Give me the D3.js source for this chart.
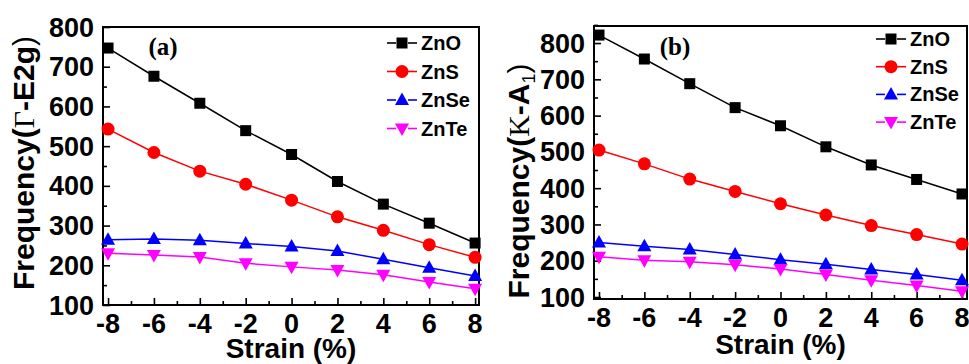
<!DOCTYPE html>
<html>
<head>
<meta charset="utf-8">
<script src="https://cdn.jsdelivr.net/npm/d3@7"></script>
<style>
  body { margin: 0; background: #fff; }
  text { font-family: "Liberation Sans", Arial, sans-serif; font-weight: bold; fill: #000; }
</style>
</head>
<body>
<script>
/* two panels of phonon frequency vs strain */
var width = 969;
var height = 364;

var strain = [-8, -6, -4, -2, 0, 2, 4, 6, 8];
var xTicks = [-8, -6, -4, -2, 0, 2, 4, 6, 8];
var yTicks = [100, 200, 300, 400, 500, 600, 700, 800];
var compounds = ["ZnO", "ZnS", "ZnSe", "ZnTe"];

// panel (a): Gamma-E2g
var aZnO  = [747, 676, 608, 539, 479, 411, 354, 306, 256];
var aZnS  = [543, 484, 437, 404, 364, 322, 288, 252, 220];
var aZnSe = [264, 266, 263, 255, 247, 236, 215, 194, 173];
var aZnTe = [230, 226, 221, 205, 196, 188, 176, 158, 141];

// panel (b): K-A1
var bZnO  = [822, 756, 688, 622, 572, 514, 464, 424, 384];
var bZnS  = [505, 467, 425, 391, 357, 326, 297, 272, 246];
var bZnSe = [250, 240, 231, 217, 203, 190, 176, 162, 146];
var bZnTe = [211, 201, 197, 189, 177, 162, 146, 132, 116];

var colors = ["#000000", "#ff0000", "#0000ff", "#ff00ff"];
var shapes = ["square", "circle", "up", "down"];

var svg = d3.select('body').append('svg').attr('width', width).attr('height', height);

function marker(g, shape, color) {
  if (shape == "square") {
    g.append("rect").attr("x", -5.5).attr("y", -5.5).attr("width", 11).attr("height", 11).attr("fill", color);
  } else if (shape == "circle") {
    g.append("circle").attr("r", 6.5).attr("fill", color);
  } else if (shape == "up") {
    g.append("path").attr("d", "M0,-7.5L7,5L-7,5Z").attr("fill", color);
  } else {
    g.append("path").attr("d", "M0,7.5L7,-5L-7,-5Z").attr("fill", color);
  }
}

function panel(p) {
  var x = d3.scaleLinear().domain(p.xdom).range([p.left, p.right]);
  var y = d3.scaleLinear().domain(p.ydom).range([p.bottom, p.top]);
  var g = svg.append("g");

  // inward ticks, major + minor
  var xMinor = [-7, -5, -3, -1, 1, 3, 5, 7];
  var yMinor = [150, 250, 350, 450, 550, 650, 750];
  if (p.ydom[1] > 820) yMinor.push(850);

  g.append("g").attr("transform", "translate(0," + p.bottom + ")")
    .call(d3.axisBottom(x).tickValues(xTicks).tickSize(-7).tickFormat(""))
    .call(function(a){ a.select(".domain").remove(); a.selectAll("line").attr("stroke-width", 1.6); });
  g.append("g").attr("transform", "translate(0," + p.bottom + ")")
    .call(d3.axisBottom(x).tickValues(xMinor).tickSize(-4).tickFormat(""))
    .call(function(a){ a.select(".domain").remove(); a.selectAll("line").attr("stroke-width", 1.6); });
  g.append("g").attr("transform", "translate(" + p.left + ",0)")
    .call(d3.axisLeft(y).tickValues(yTicks).tickSize(-7).tickFormat(""))
    .call(function(a){ a.select(".domain").remove(); a.selectAll("line").attr("stroke-width", 1.6); });
  g.append("g").attr("transform", "translate(" + p.left + ",0)")
    .call(d3.axisLeft(y).tickValues(yMinor).tickSize(-4).tickFormat(""))
    .call(function(a){ a.select(".domain").remove(); a.selectAll("line").attr("stroke-width", 1.6); });

  // tick labels
  g.selectAll(".xl").data(xTicks).enter().append("text")
    .attr("x", function(d){ return x(d); }).attr("y", p.bottom + 28)
    .attr("text-anchor", "middle").attr("font-size", 27)
    .text(function(d){ return d < 0 ? "-" + Math.abs(d) : d; });
  g.selectAll(".yl").data(yTicks).enter().append("text")
    .attr("x", p.left - 9).attr("y", function(d){ return y(d) + 9.5; })
    .attr("text-anchor", "end").attr("font-size", 27)
    .text(function(d){ return d; });

  // frame
  g.append("rect").attr("x", p.left).attr("y", p.top)
    .attr("width", p.right - p.left).attr("height", p.bottom - p.top)
    .attr("fill", "none").attr("stroke", "#000").attr("stroke-width", 2);

  // series
  var line = d3.line().x(function(d, i){ return x(strain[i]); }).y(function(d){ return y(d); });
  p.series.forEach(function(s, k) {
    g.append("path").attr("d", line(s)).attr("fill", "none")
      .attr("stroke", colors[k]).attr("stroke-width", 1.5);
    s.forEach(function(v, i) {
      marker(g.append("g").attr("transform", "translate(" + x(strain[i]) + "," + y(v) + ")"), shapes[k], colors[k]);
    });
  });

  // legend
  compounds.forEach(function(c, k) {
    var ly = p.legY + k * p.legStep;
    var lg = g.append("g").attr("transform", "translate(" + p.legX + "," + ly + ")");
    lg.append("line").attr("x1", 0).attr("x2", 9).attr("stroke", colors[k]).attr("stroke-width", 1.6);
    lg.append("line").attr("x1", 21).attr("x2", 30).attr("stroke", colors[k]).attr("stroke-width", 1.6);
    marker(lg.append("g").attr("transform", "translate(15,0)"), shapes[k], colors[k]);
    lg.append("text").attr("x", 34).attr("y", 7).attr("font-size", 20).text(c);
  });

  // panel letter
  g.append("text").attr("x", p.tagX).attr("y", 55).attr("text-anchor", "middle")
    .style("font-family", "'Liberation Serif', 'Times New Roman', serif")
    .attr("font-size", 25).text(p.tag);

  // axis titles
  g.append("text").attr("x", (p.left + p.right) / 2).attr("y", p.xlabY)
    .attr("text-anchor", "middle").attr("font-size", 28).text("Strain (%)");

  var yt = g.append("text").attr("text-anchor", "middle").attr("font-size", 30)
    .attr("transform", "translate(" + p.ylabX + "," + p.ylabY + ") rotate(-90)");
  p.ylab(yt);
}

panel({
  left: 103, right: 479, top: 27, bottom: 305,
  xdom: [-8.22, 8.17], ydom: [100, 800],
  series: [aZnO, aZnS, aZnSe, aZnTe],
  legX: 387, legY: 43, legStep: 28.5,
  tag: "(a)", tagX: 163,
  xlabY: 358,
  ylabX: 34, ylabY: 163,
  ylab: function(t) {
    t.append("tspan").text("Frequency(");
    t.append("tspan").style("font-family", "'Liberation Serif', serif").style("font-weight", "normal").text("\u0393");
    t.append("tspan").text("-E2g");
    t.append("tspan").style("font-weight", "normal").text(")");
  }
});

panel({
  left: 594, right: 967, top: 26, bottom: 299,
  xdom: [-8.22, 8.22], ydom: [94.5, 847],
  series: [bZnO, bZnS, bZnSe, bZnTe],
  legX: 876, legY: 39, legStep: 27.7,
  tag: "(b)", tagX: 675,
  xlabY: 354,
  ylabX: 529, ylabY: 181,
  ylab: function(t) {
    t.append("tspan").text("Frequency(");
    t.append("tspan").style("font-family", "'Liberation Serif', serif").style("font-weight", "normal").text("K");
    t.append("tspan").text("-A");
    t.append("tspan").attr("font-size", 18).style("font-weight", "normal").attr("dy", 6).text("1");
    t.append("tspan").style("font-weight", "normal").attr("dy", -6).text(")");
  }
});
</script>
</body>
</html>
